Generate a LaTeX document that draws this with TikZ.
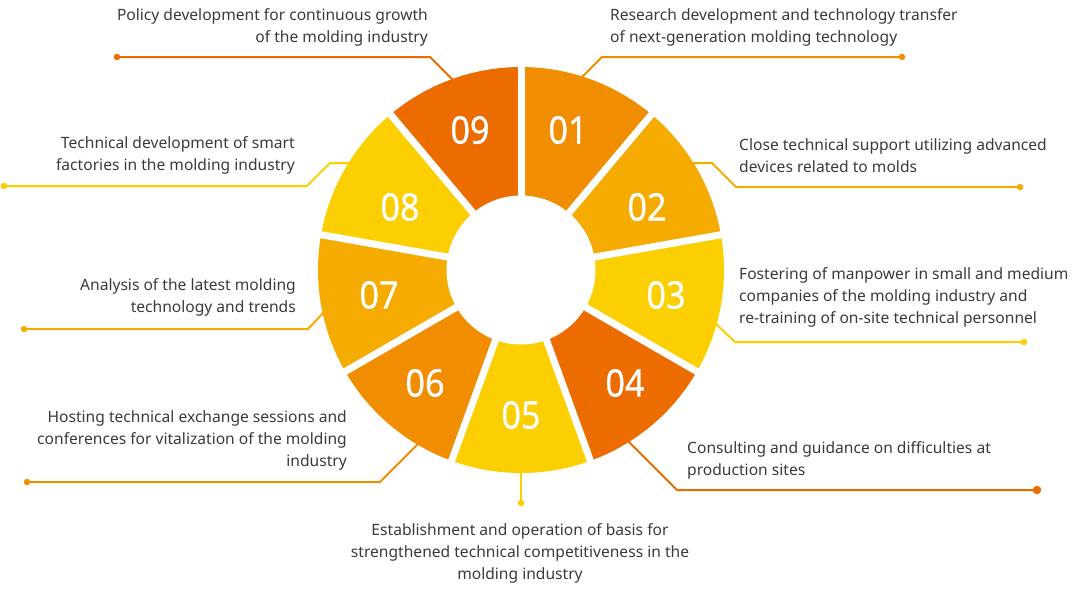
\documentclass[tikz,border=0pt]{standalone}
\usepackage{fontspec}
\usepackage{graphicx}
\setmainfont{Noto Sans}
\newfontfamily\numfont[FakeBold=0.6]{Noto Sans}
\usetikzlibrary{calc}
\definecolor{cA}{HTML}{F18D00}
\definecolor{cB}{HTML}{F6AB00}
\definecolor{cC}{HTML}{FCCF00}
\definecolor{cD}{HTML}{ED6C00}
\definecolor{txt}{HTML}{3A3A3A}
\begin{document}
\begin{tikzpicture}[x=1pt,y=1pt,
  lbl/.style={font=\fontsize{15.6}{21.7}\selectfont, text=txt, inner sep=0pt},
  num/.style={font=\numfont\fontsize{38}{38}\selectfont, text=white, inner sep=0pt},
  lead/.style={line width=2pt, line join=miter},
  dot/.style={circle, inner sep=0pt, minimum size=6.5pt}]
\useasboundingbox (0,0) rectangle (1072,-589);
\coordinate (c) at (521,-270);
% leader lines
\coordinate (s1) at (580,-79);  \coordinate (k1) at (602,-57);
\node[dot,fill=cA] (d1) at (902,-57) {};
\draw[lead,cA] (s1) -- (k1) -- (d1.center);
\coordinate (s2) at (688,-163); \coordinate (k2a) at (712,-163); \coordinate (k2b) at (736,-187);
\node[dot,fill=cB] (d2) at (1020,-187) {};
\draw[lead,cB] (s2) -- (k2a) -- (k2b) -- (d2.center);
\coordinate (s3) at (714,-322); \coordinate (k3) at (735,-342);
\node[dot,fill=cC] (d3) at (1024,-342) {};
\draw[lead,cC] (s3) -- (k3) -- (d3.center);
\coordinate (s4) at (628,-441); \coordinate (k4) at (677,-490);
\node[dot,fill=cD,minimum size=8.5pt] (d4) at (1037,-490) {};
\draw[lead,cD] (s4) -- (k4) -- (d4.center);
\coordinate (s5) at (521,-470);
\node[dot,fill=cC] (d5) at (521,-503) {};
\draw[lead,cC] (s5) -- (d5.center);
\coordinate (s6) at (419,-443); \coordinate (k6) at (380,-482);
\node[dot,fill=cA] (d6) at (27,-482) {};
\draw[lead,cA] (s6) -- (k6) -- (d6.center);
\coordinate (s7) at (325,-311); \coordinate (k7) at (308,-329);
\node[dot,fill=cB] (d7) at (24,-329) {};
\draw[lead,cB] (s7) -- (k7) -- (d7.center);
\coordinate (s8) at (352,-163); \coordinate (k8a) at (330,-163); \coordinate (k8b) at (307,-186);
\node[dot,fill=cC] (d8) at (4,-186) {};
\draw[lead,cC] (s8) -- (k8a) -- (k8b) -- (d8.center);
\coordinate (s9) at (455,-82); \coordinate (k9) at (430,-57);
\node[dot,fill=cD] (d9) at (117,-57) {};
\draw[lead,cD] (s9) -- (k9) -- (d9.center);
% ring segments
\foreach \i/\col in {1/cA,2/cB,3/cC,4/cD,5/cC,6/cA,7/cB,8/cC,9/cD}{
  \pgfmathsetmacro\a{90-40*(\i-1)}
  \fill[\col] (c) -- ($(c)+(\a:203)$) arc[start angle=\a, end angle=\a-40, radius=203] -- cycle;
}
\foreach \k in {0,...,8}{
  \draw[white,line width=7pt] (c) -- ($(c)+(90-40*\k:205)$);
}
\fill[white] (c) circle (74.5);
\foreach \i/\x/\y in {1/568/130,2/647/207,3/666/295,4/625/383,5/521/415,6/425/383,7/379/295,8/400/207,9/470/130}{
  \node[num] (n\i) at (\x,-\y) {\scalebox{0.9}[1]{0\i}};
}
% labels
\node[lbl, anchor=base east, align=right] (t9) at (428,-42) {Policy development for continuous growth\\of the molding industry};
\node[lbl, anchor=base west, align=left] (t1) at (610,-42) {Research development and technology transfer\\of next-generation molding technology};
\node[lbl, anchor=base west, align=left] (t2) at (739,-172) {Close technical support utilizing advanced\\devices related to molds};
\node[lbl, anchor=base west, align=left] (t3) at (739,-323) {Fostering of manpower in small and medium\\companies of the molding industry and\\re-training of on-site technical personnel};
\node[lbl, anchor=base west, align=left] (t4) at (687,-475) {Consulting and guidance on difficulties at\\production sites};
\node[lbl, anchor=base, align=center] (t5) at (520,-579) {Establishment and operation of basis for\\strengthened technical competitiveness in the\\molding industry};
\node[lbl, anchor=base east, align=right] (t6) at (347,-466) {Hosting technical exchange sessions and\\conferences for vitalization of the molding\\industry};
\node[lbl, anchor=base east, align=right] (t7) at (296,-312) {Analysis of the latest molding\\technology and trends};
\node[lbl, anchor=base east, align=right] (t8) at (295,-170) {Technical development of smart\\factories in the molding industry};
\end{tikzpicture}
\end{document}
